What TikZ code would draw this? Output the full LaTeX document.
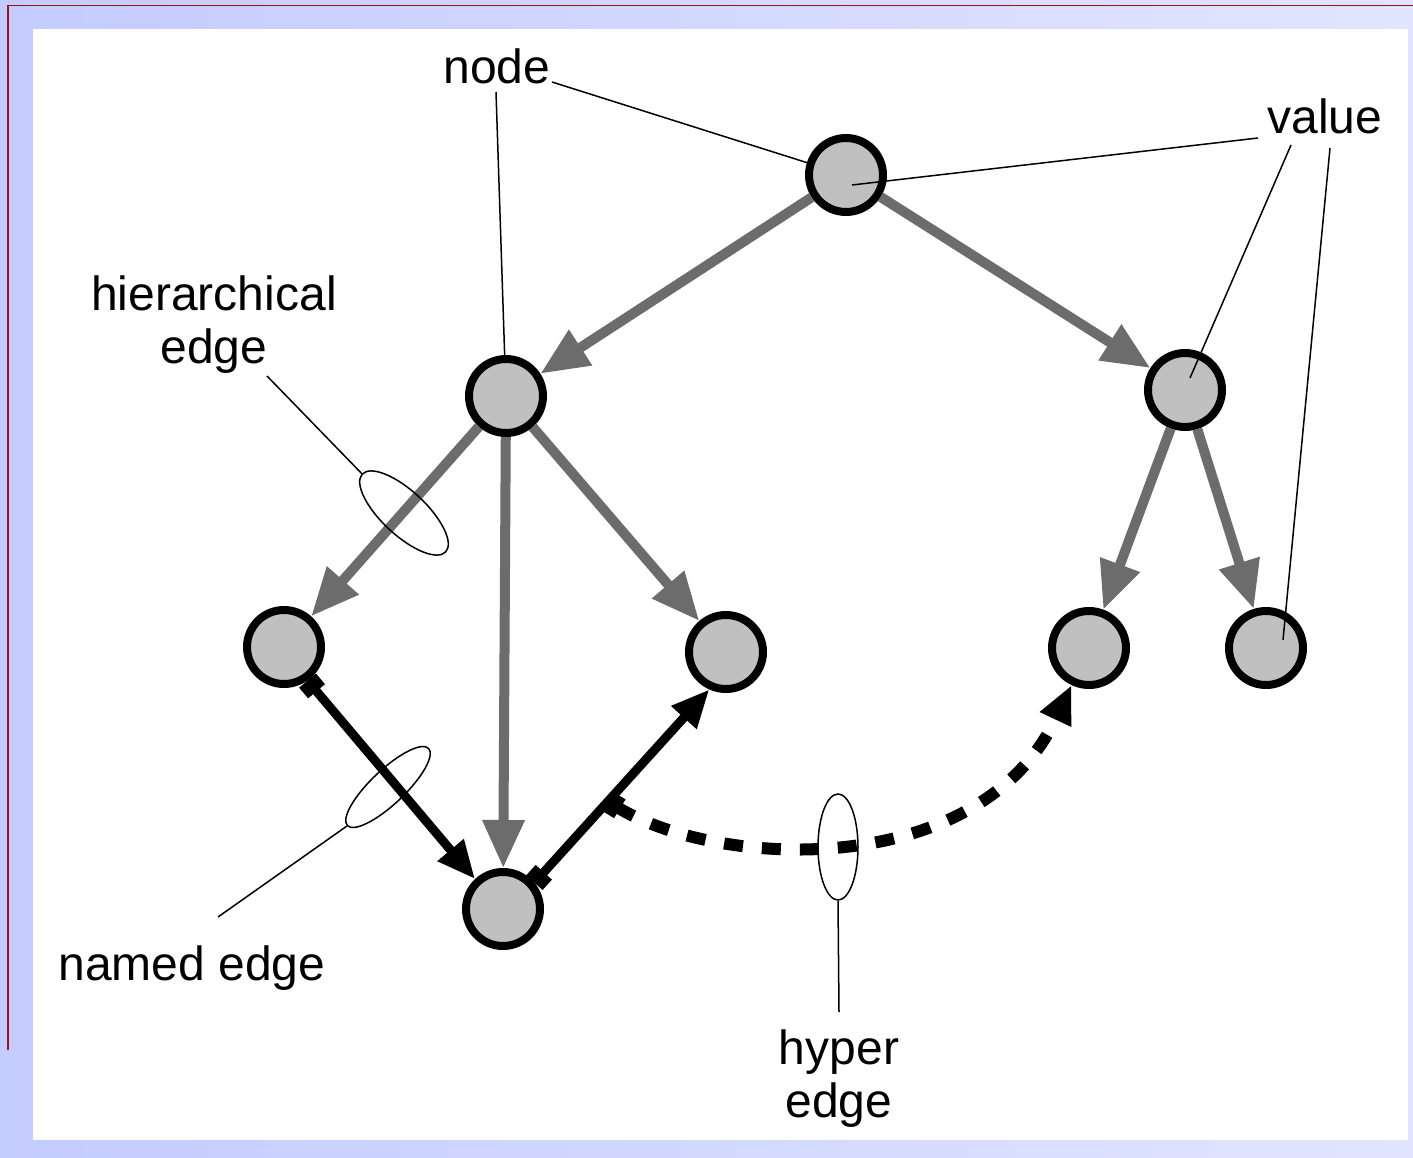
\documentclass[tikz,border=0pt]{standalone}
\usepackage{fontspec}
\setmainfont{Liberation Sans}
\usetikzlibrary{shapes,arrows.meta}
\definecolor{nodegray}{RGB}{192,192,192}
\definecolor{edgegray}{RGB}{108,108,108}
\definecolor{bgleft}{RGB}{196,203,255}
\definecolor{bgright}{RGB}{226,229,255}
\definecolor{rim}{RGB}{150,20,20}
\tikzstyle{vertex} = [circle, draw, fill=nodegray, line width=8pt, minimum size=74pt, inner sep=0pt]
\tikzstyle{hier} = [draw=edgegray, line width=10pt, -{Triangle[length=48pt,width=40pt]}]
\tikzstyle{named} = [draw, line width=9pt, {Rectangle[length=14pt,width=22pt]}-{Triangle[length=38pt,width=32pt]}]
\tikzstyle{hyperedge} = [draw, line width=12pt, dash pattern=on 19pt off 19pt, {Rectangle[length=14pt,width=22pt]}-{Triangle[length=38pt,width=32pt]}]
\tikzstyle{tag} = [font=\fontsize{48}{53}\selectfont, inner sep=0pt, align=center]
\tikzstyle{pointer} = [draw, line width=1.5pt]
\tikzstyle{ring} = [ellipse, draw, line width=1.5pt, inner sep=0pt]

\begin{document}
\begin{tikzpicture}[x=1pt, y=-1pt]
  % Frame
  \useasboundingbox (0,0) rectangle (1413,1158);
  \fill[left color=bgleft, right color=bgright] (0,0) rectangle (1413,1158);
  \fill[white] (33,29) rectangle (1408,1140);
  \draw[rim, line width=1.5pt] (8,1050) -- (8,5.5) -- (1413,5.5);
  % Place nodes
  \node [vertex] (root) at (846,175) {};
  \node [vertex] (l1) at (506,396) {};
  \node [vertex] (r1) at (1185,390) {};
  \node [vertex] (ll) at (284,647) {};
  \node [vertex] (lr) at (726,652) {};
  \node [vertex] (lb) at (503,909) {};
  \node [vertex] (rl) at (1089,648) {};
  \node [vertex] (rr) at (1266,648) {};
  % Place labels
  \node [tag, anchor=base] (nodelbl) at (497,84) {node};
  \node [tag, anchor=base] (valuelbl) at (1325,134) {value};
  \node [tag, anchor=north] (hierlbl) at (214,276) {hierarchical\\edge};
  \node [tag, anchor=base] (namedlbl) at (192,980) {named edge};
  \node [tag, anchor=north] (hyperlbl) at (839,1030) {hyper\\edge};
  % Draw edges
  \path [hier] (root) -- (l1);
  \path [hier] (root) -- (r1);
  \path [hier] (l1) -- (ll);
  \path [hier] (l1) -- (lb);
  \path [hier] (l1) -- (lr);
  \path [hier] (r1) -- (rl);
  \path [hier] (r1) -- (rr);
  \path [named] (ll.-55) -- (lb.133);
  \path [named] (lb.40) -- coordinate[pos=0.42] (hstart) (lr.246);
  \path [hyperedge] (hstart) .. controls (720,870) and (980,880) .. (rl);
  % Rings round edges
  \node [ring, minimum width=114pt, minimum height=44pt, rotate=-43] (hring) at (404,513) {};
  \node [ring, minimum width=112pt, minimum height=34pt, rotate=43.5] (nring) at (388,787) {};
  \node [ring, minimum width=40pt, minimum height=106pt] (xring) at (838,847) {};
  % Pointers
  \coordinate (c-node1) at (552,82);
  \coordinate (c-node2) at (496,92);
  \coordinate (c-val1) at (1258,138);
  \coordinate (c-val2) at (1291,145);
  \coordinate (c-val3) at (1330,148);
  \coordinate (c-hier) at (267,376);
  \coordinate (c-named) at (218,917);
  \coordinate (c-hyper) at (839,1012);
  \path [pointer] (c-node1) -- (root);
  \path [pointer] (c-node2) -- (l1);
  \path [pointer] (c-val1) -- ([shift={(6,10)}]root.center);
  \path [pointer] (c-val2) -- ([shift={(5,-12)}]r1.center);
  \path [pointer] (c-val3) -- ([shift={(17,-8)}]rr.center);
  \path [pointer] (c-hier) -- (hring.west);
  \path [pointer] (c-named) -- (nring.west);
  \path [pointer] (xring.south) -- (c-hyper);
\end{tikzpicture}
\end{document}
